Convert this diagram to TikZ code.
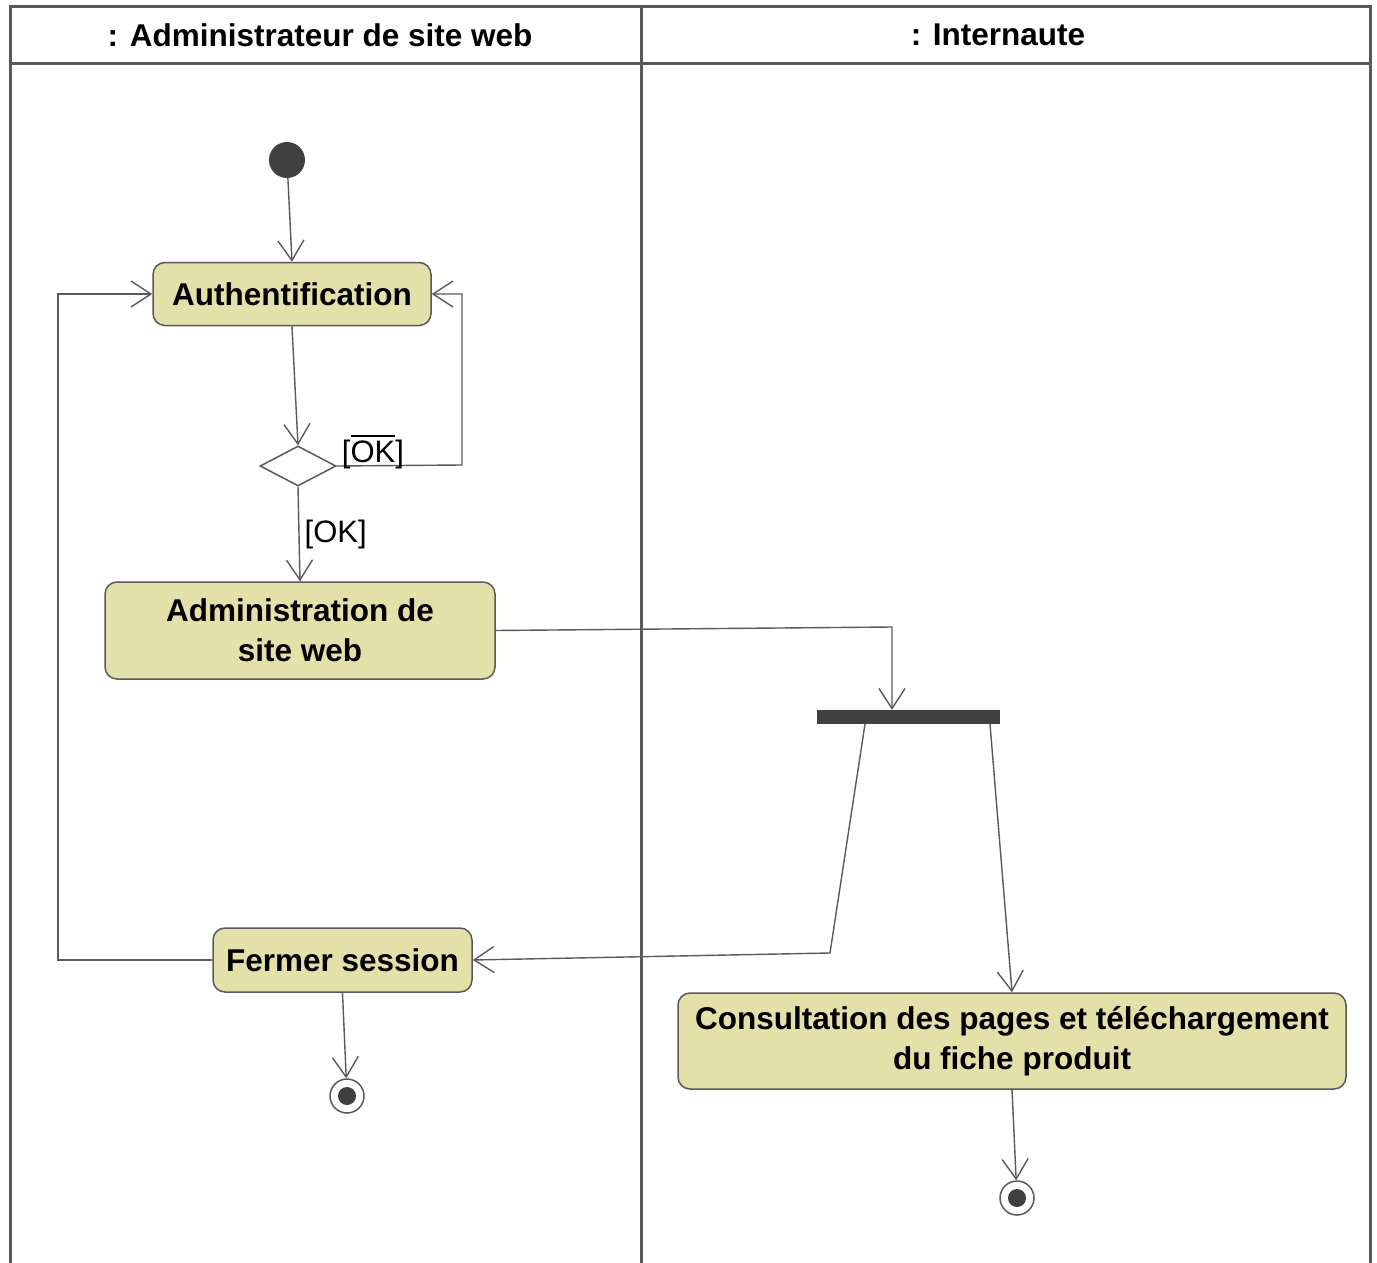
\documentclass[tikz,border=0pt]{standalone}
\usepackage{fontspec}
\setmainfont{Liberation Sans}
\usepackage{tikz}
\usetikzlibrary{arrows.meta,shapes.geometric,calc}
\newcommand{\clrbox}{olive!25!white}
\newcommand{\clrdark}{black!75}
\newcommand{\clrline}{black!65}
\newcommand{\ovl}[1]{\setbox0\hbox{#1}\rlap{\rule[\dimexpr\ht0+4pt\relax]{\wd0}{1.3pt}}\box0}

\begin{document}
\begin{tikzpicture}[x=1pt,y=-1pt,
        lane/.style={draw=\clrline, line width=3pt},
        head/.style={font=\fontsize{31.5}{36}\selectfont\bfseries},
        act/.style={draw=\clrline, line width=1.5pt, fill=\clrbox, rounded corners=12pt,
            align=center, inner sep=0pt, font=\fontsize{31.5}{40}\selectfont\bfseries},
        guard/.style={font=\fontsize{31}{36}\selectfont, inner sep=5pt},
        start/.style={circle, fill=\clrdark, minimum size=36pt, inner sep=0pt},
        stop/.style={circle, draw=\clrline, line width=1.5pt, fill=white, minimum size=34pt, inner sep=0pt,
            path picture={\fill[\clrdark] (path picture bounding box.center) circle (9pt);}},
        choice/.style={diamond, draw=\clrline, line width=1.5pt, fill=white, inner sep=0pt,
            minimum width=76pt, minimum height=40pt},
        fork/.style={rectangle, fill=\clrdark, inner sep=0pt, minimum width=183pt, minimum height=14pt},
        flow/.style={draw=\clrline, line width=1.4pt, -{Straight Barb[length=20pt,width=26pt]}}]

        \useasboundingbox (0,0) rectangle (1377,1263);

        % swimlanes
        \draw[lane] (10,1263) -- (10,7) -- (1370,7) -- (1370,1263);
        \draw[lane] (10,64) -- (1370,64);
        \draw[lane] (641,7) -- (641,1263);
        \node[head] (hadmin) at (320,35) {: Administrateur de site web};
        \node[head] (hnet) at (998,35) {: Internaute};

        \node[start] (init) at (287,160) {};
        \node[act, minimum width=278pt, minimum height=63pt] (auth) at (292,294) {Authentification};
        \node[choice] (dec) at (298,466) {};
        \node[act, minimum width=390pt, minimum height=97pt] (admin) at (300,630.5) {Administration de\\site web};
        \node[fork] (bar) at (908.5,717) {};
        \node[act, minimum width=259pt, minimum height=64pt] (close) at (342.5,960) {Fermer session};
        \node[act, minimum width=668pt, minimum height=96pt] (consult) at (1012,1041)
            {Consultation des pages et téléchargement\\du fiche produit};
        \node[stop] (end1) at (347,1096) {};
        \node[stop] (end2) at (1017,1198) {};

        \coordinate (k1) at (462,465);
        \coordinate (k2) at (892,627);
        \coordinate (b1) at (865,724);
        \coordinate (b2) at (990,724);
        \coordinate (k3) at (830,953);
        \coordinate (k4) at (58,960);

        \foreach \v/\w in {init/auth.north, auth.south/dec.north, b2/consult.north, close.south/end1, consult.south/end2}
        {
            \draw[flow] (\v) -- (\w);
        }

        \draw[flow] (dec.east) -- (k1) -- (k1 |- auth.east) -- (auth.east);
        \node[guard] (notok) at (373,452) {[\ovl{OK}]};
        \draw[flow] (dec.south) -- node[guard, right] (ok) {[OK]} (admin.north);
        \draw[flow] (admin.east) -- (k2) -- (k2 |- bar.north);
        \draw[flow] (b1) -- (k3) -- (close.east);
        \draw[flow] (close.west) -- (k4) -- (k4 |- auth.west) -- (auth.west);

    \end{tikzpicture}
\end{document}
